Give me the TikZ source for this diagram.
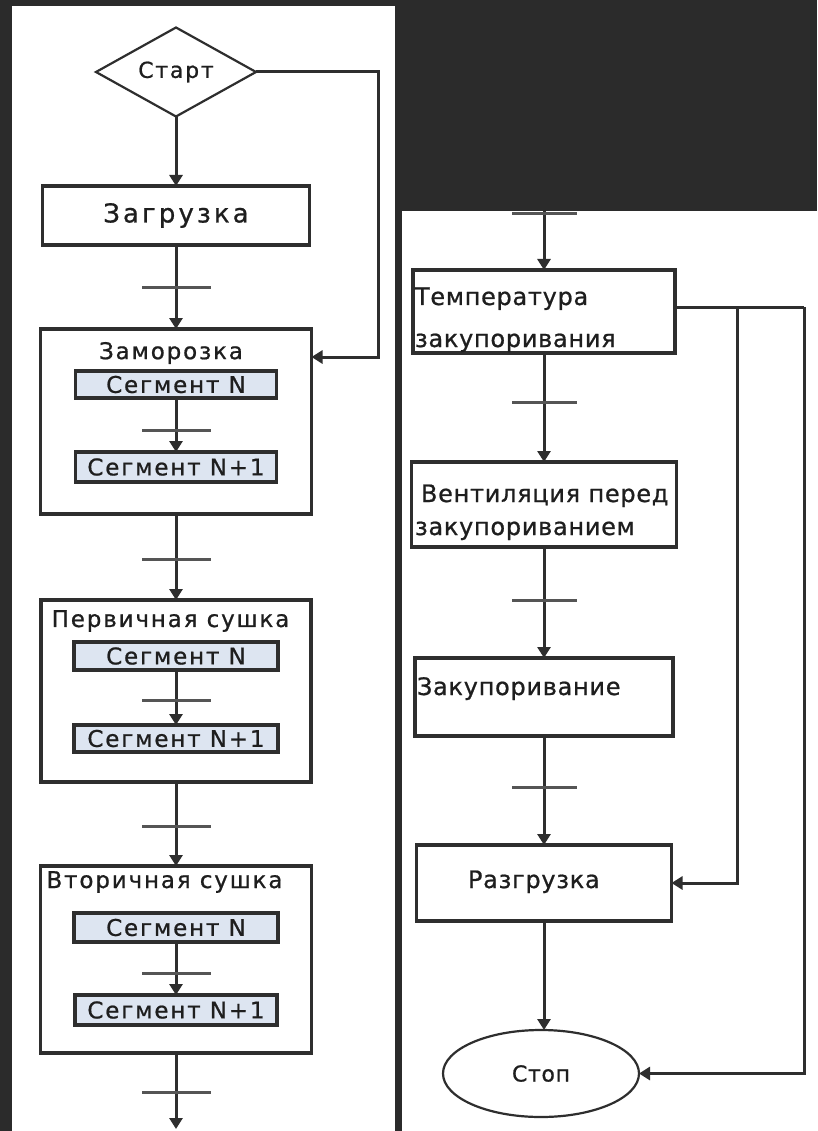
\documentclass[tikz,border=0pt]{standalone}
\usepackage{fontspec}
\setmainfont{DejaVu Sans}
\newfontfamily\lfont[LetterSpace=8,FakeBold=0.8]{DejaVu Sans}
\newfontfamily\wfont[LetterSpace=12,FakeBold=0.8]{DejaVu Sans}
\newfontfamily\rfont[LetterSpace=3,FakeBold=0.8]{DejaVu Sans}
\usetikzlibrary{shapes.geometric,arrows.meta,calc}
\definecolor{bgdark}{HTML}{2B2B2B}
\definecolor{ink}{HTML}{2E2E2E}
\definecolor{segfill}{HTML}{DDE5F1}
\definecolor{barcol}{HTML}{555555}
\definecolor{txtcol}{HTML}{1E1E1E}
\begin{document}
\begin{tikzpicture}[x=1pt,y=-1pt,
  every node/.style={inner sep=0pt, outer sep=0pt},
  txt/.style={font=\lfont\fontsize{23}{27}\selectfont, text=txtcol},
  txtR/.style={font=\rfont\fontsize{24}{28}\selectfont, text=txtcol},
  box/.style={draw=ink, line width=3.8pt, rectangle, fill=white},
  seg/.style={draw=ink, line width=3.4pt, rectangle, fill=segfill, txt},
  conn/.style={draw=ink, line width=3pt},
  arr/.style={draw=ink, line width=3pt, -{Triangle[length=11pt,width=13pt]}},
  bar/.style={draw=barcol, line width=3pt}
]
\useasboundingbox (0,0) rectangle (817,1131);
% background and panels
\fill[bgdark] (0,0) rectangle (817,1131);
\fill[white] (12,6) rectangle (395,1131);
\fill[white] (402,211) rectangle (817,1131);

% ---------------- left column ----------------
\node[diamond, draw=ink, line width=2.2pt, aspect=1.8, minimum width=160pt, minimum height=89pt,
      font=\lfont\fontsize{22}{26}\selectfont, text=txtcol] (start) at (176,72) {Старт};
\node[box, minimum width=267pt, minimum height=59pt,
      font=\wfont\fontsize{26}{30}\selectfont, text=txtcol] (load) at (176,215.5) {Загрузка};

\node[box, minimum width=271pt, minimum height=185pt] (freeze) at (176,421.5) {};
\node[txt] (freezeT) at (171,353) {Заморозка};
\node[seg, minimum width=201pt, minimum height=27pt] (f1) at (176,384.5) {Сегмент N};
\node[seg, minimum width=201pt, minimum height=30pt] (f2) at (176,467) {Сегмент N+1};

\node[box, minimum width=270pt, minimum height=182pt] (prim) at (176,691) {};
\node[txt] (primT) at (170.5,621) {Первичная сушка};
\node[seg, minimum width=204pt, minimum height=28pt] (p1) at (176,656) {Сегмент N};
\node[seg, minimum width=204pt, minimum height=27pt] (p2) at (176,738.5) {Сегмент N+1};

\node[box, minimum width=271pt, minimum height=187pt] (sec) at (176,959.5) {};
\node[txt] (secT) at (164.5,882) {Вторичная сушка};
\node[seg, minimum width=204pt, minimum height=29pt] (s1) at (176,927.5) {Сегмент N};
\node[seg, minimum width=202pt, minimum height=30pt] (s2) at (176,1010) {Сегмент N+1};

\coordinate (endL) at (176,1129);
\coordinate (fbL) at (378,72);

\draw[arr] (start.south) -- (load.north);
\draw[arr] (load.south) -- (freeze.north);
\draw[arr] (f1.south) -- (f2.north);
\draw[arr] (freeze.south) -- (prim.north);
\draw[arr] (p1.south) -- (p2.north);
\draw[arr] (prim.south) -- (sec.north);
\draw[arr] (s1.south) -- (s2.north);
\draw[arr] (sec.south) -- (endL);
\draw[arr] (start.east) -- (fbL) |- ($(freeze.north east)+(0,28)$);

% crossbars
\foreach \y in {288,430,559,700,826,973,1092}
  \draw[bar] (142,\y) -- (211,\y);

% ---------------- right column ----------------
\node[box, minimum width=262pt, minimum height=83pt] (temp) at (544,311.5) {};
\node[txtR, anchor=base west] (tempT1) at (415,305) {Температура};
\node[txtR, anchor=base west] (tempT2) at (415,347) {закупоривания};

\node[box, minimum width=265pt, minimum height=85pt] (vent) at (544,504.5) {};
\node[txtR, anchor=base west] (ventT1) at (421,502) {Вентиляция перед};
\node[txtR, anchor=base west] (ventT2) at (415,535) {закупориванием};

\node[box, minimum width=258pt, minimum height=78pt] (seal) at (544,697) {};
\node[txtR, anchor=base west] (sealT) at (417,695) {Закупоривание};

\node[box, minimum width=255pt, minimum height=76pt] (unload) at (544,883) {};
\node[txtR, anchor=base west] (unloadT) at (468,888) {Разгрузка};

\node[ellipse, draw=ink, line width=2.2pt, minimum width=196pt, minimum height=87pt,
      font=\rfont\fontsize{22}{26}\selectfont, text=txtcol] (stop) at (541,1073.5) {Стоп};

\coordinate (topR) at (544,211);
\coordinate (j1) at (737,307);
\coordinate (j2) at (804,307);

\draw[arr] (topR) -- (temp.north);
\draw[arr] (temp.south) -- (vent.north);
\draw[arr] (vent.south) -- (seal.north);
\draw[arr] (seal.south) -- (unload.north);
\draw[arr] (unload.south) -- (stop.north -| unload.south);
\draw[conn] (temp.east |- j2) -- (j2);
\draw[arr] (j1) |- (unload.east);
\draw[arr] (j2) |- (stop.east);

\foreach \y in {214,402,600,787}
  \draw[bar] (512,\y) -- (577,\y);
\end{tikzpicture}
\end{document}
